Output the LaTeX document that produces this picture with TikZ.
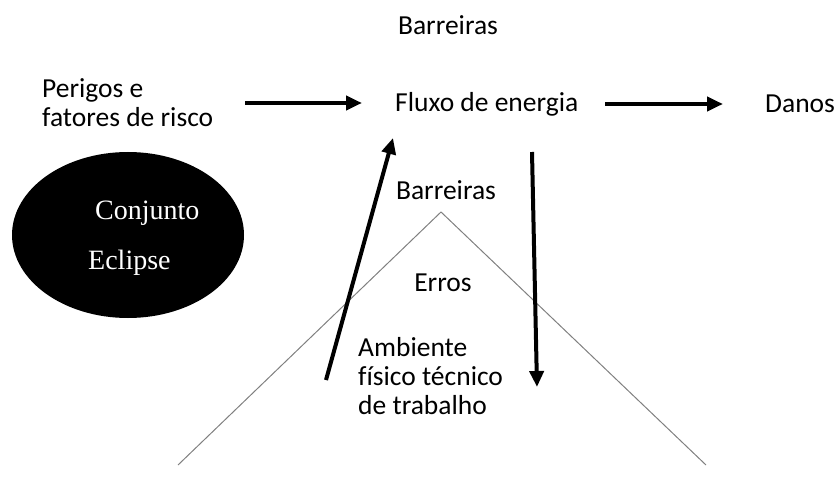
\documentclass[tikz,border=0pt]{standalone}
\usepackage{fontspec}
\setmainfont{Carlito}[Ligatures=NoCommon]
\newfontfamily\timesfont{Liberation Serif}
\usepackage{tikz}
\usetikzlibrary{positioning}
\usetikzlibrary{shapes}
\usetikzlibrary{arrows.meta}

\begin{document}
\begin{tikzpicture}[x=1pt, y=-1pt,
		font=\fontsize{27.5}{29}\selectfont,
		txt/.style={inner sep=0pt},
		flow/.style={line width=4pt, -{Triangle[length=16pt,width=14pt]}},
		serif/.style={inner sep=0pt, white, anchor=west, font=\timesfont\fontsize{28}{32}\selectfont}]
				\useasboundingbox (0,0) rectangle (838,481);
				
				\node[ellipse, fill=black, minimum width=232, minimum height=166] (eclipse) at (128,235) {};
				\node[serif] (conjunto) at (95,213) {Conjunto};
				\node[serif] (eclipsetxt) at (88,263) {Eclipse};
				
				\coordinate (apex) at (441,212);
				\coordinate (baseL) at (178,465);
				\coordinate (baseR) at (706,465);
				\draw[gray, line width=1pt] (baseL) -- (apex) -- (baseR);
				
				\node[txt] (barreiras1) at (448,25) {Barreiras};
				\node[txt, align=left, anchor=west] (perigos) at (42,103) {Perigos e\\fatores de risco};
				\node[txt, anchor=west] (fluxo) at (395,104) {Fluxo de energia};
				\node[txt, anchor=west] (danos) at (765,104) {Danos};
				\node[txt] (barreiras2) at (446,190) {Barreiras};
				\node[txt] (erros) at (443,283) {Erros};
				\node[txt, align=left, anchor=west] (ambiente) at (358,376) {Ambiente\\físico técnico\\de trabalho};
				
				\coordinate (upstart) at (326,380);
				\coordinate (upend) at (393,138);
				\coordinate (downstart) at (532,152);
				\coordinate (downend) at (537,387);
				
				\draw[flow, shorten <=32pt, shorten >=33pt] (perigos.east) -- (perigos.east -| fluxo.west);
				\draw[flow, shorten <=27pt, shorten >=42pt] (fluxo.east) -- (danos.west);
				\draw[flow] (upstart) -- (upend);
				\draw[flow] (downstart) -- (downend);
			\end{tikzpicture}
\end{document}
